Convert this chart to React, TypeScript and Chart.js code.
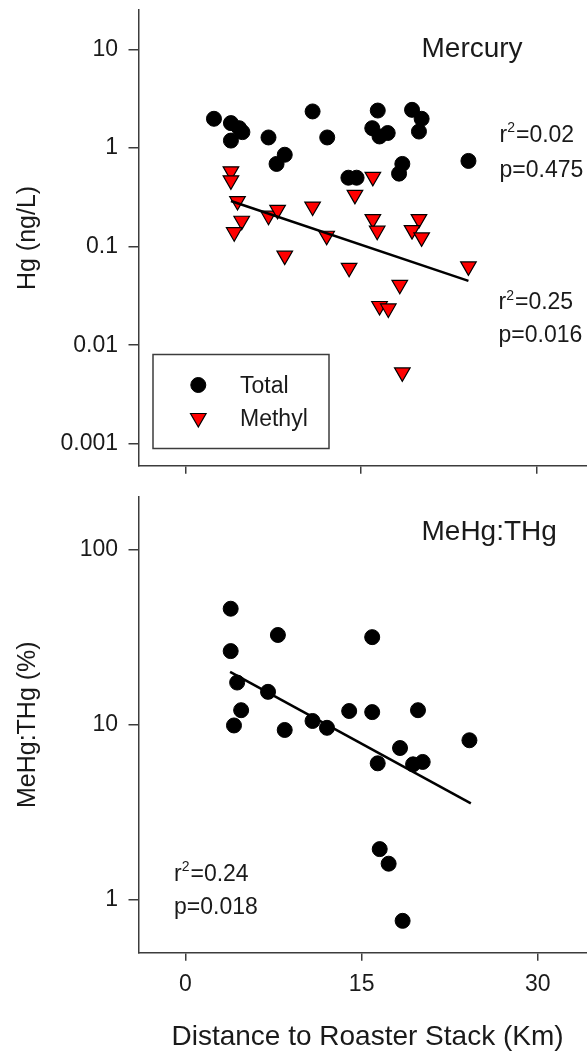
import React, { useEffect, useRef } from 'react';
import { Chart, registerables } from 'chart.js';

Chart.register(...registerables);

// ---------- data ----------
const xTicks = [0, 15, 30];
const hgTicks = [0.001, 0.01, 0.1, 1, 10];
const ratioTicks = [1, 10, 100];

const distTotal = [2.45, 3.9, 4.6, 4.88, 3.9, 7.11, 10.88, 12.13, 8.5, 7.8, 16.45, 19.38, 20.2, 19.97, 15.98, 16.6, 17.3, 18.55, 18.27, 24.2, 13.94, 14.64];
const hgTotal = [1.98, 1.79, 1.59, 1.45, 1.19, 1.28, 2.35, 1.28, 0.855, 0.69, 2.4, 2.44, 1.98, 1.47, 1.59, 1.31, 1.42, 0.69, 0.55, 0.74, 0.5, 0.5];

const distMethyl = [3.9, 3.9, 4.46, 4.82, 4.18, 7.11, 7.89, 10.88, 12.08, 8.5, 16.03, 14.5, 16.03, 16.4, 19.97, 19.38, 20.2, 14.0, 24.2, 18.33, 16.6, 17.35, 18.55];
const hgMethyl = [0.58, 0.47, 0.29, 0.183, 0.14, 0.206, 0.236, 0.255, 0.129, 0.081, 0.51, 0.335, 0.19, 0.145, 0.19, 0.147, 0.124, 0.061, 0.063, 0.041, 0.025, 0.0236, 0.0053];

const methylFitX = [3.9, 24.2];
const methylFitY = [0.29, 0.045];

const distRatio = [3.85, 3.85, 7.87, 15.9, 4.4, 7.03, 4.74, 4.13, 8.45, 10.82, 12.05, 13.94, 15.9, 19.8, 18.27, 16.37, 19.38, 20.2, 24.18, 16.54, 17.3, 18.49];
const ratioPct = [45.9, 26.3, 32.5, 31.6, 17.4, 15.4, 12.1, 9.9, 9.33, 10.5, 9.6, 11.97, 11.8, 12.1, 7.36, 6.02, 5.94, 6.13, 8.15, 1.95, 1.61, 0.76];

const ratioFitX = [3.8, 24.3];
const ratioFitY = [20.0, 3.56];

// ---------- style ----------
const FONT = '"Liberation Sans", Arial, sans-serif';
const INK = '#1a1a1a';
const AXIS = '#3c3c3c';
const W = 605;
const X_MIN = -4;
const X_MAX = 35;
const Y_AXIS_W = 138.5;

const TOP_H = 480;
const BOT_H = 571;

type Part = { t: string; sup?: boolean };
type Note = { x: number; y: number; size: number; parts: Part[] };

const pts = (xs: number[], ys: number[]) => xs.map((x, i) => ({ x, y: ys[i] }));

function notesPlugin(id: string, notes: Note[]) {
  return {
    id,
    afterDraw(chart: any) {
      const ctx = chart.ctx as CanvasRenderingContext2D;
      ctx.save();
      ctx.fillStyle = INK;
      ctx.textBaseline = 'alphabetic';
      ctx.textAlign = 'left';
      for (const n of notes) {
        let x = n.x;
        for (const p of n.parts) {
          const size = p.sup ? Math.round(n.size * 0.6) : n.size;
          ctx.font = `${size}px ${FONT}`;
          const y = p.sup ? n.y - n.size * 0.42 : n.y;
          ctx.fillText(p.t, x, y);
          x += ctx.measureText(p.t).width + (p.sup ? 1 : 0);
        }
      }
      ctx.restore();
    },
  };
}

const legendPlugin = {
  id: 'boxLegend',
  afterDraw(chart: any) {
    const ctx = chart.ctx as CanvasRenderingContext2D;
    const box = { x: 153, y: 354.5, w: 176, h: 94 };
    ctx.save();
    ctx.lineWidth = 1.5;
    ctx.strokeStyle = AXIS;
    ctx.strokeRect(box.x, box.y, box.w, box.h);
    const entries = chart.data.datasets.filter((d: any) => d.inLegend);
    entries.forEach((d: any, i: number) => {
      const cx = 198.3;
      const cy = 385 + i * 33;
      ctx.fillStyle = d.backgroundColor;
      ctx.strokeStyle = d.borderColor;
      ctx.lineWidth = d.borderWidth;
      ctx.beginPath();
      if (d.pointStyle === 'triangle') {
        const r = d.pointRadius;
        let rad = Math.PI;
        ctx.moveTo(cx + Math.sin(rad) * r, cy - Math.cos(rad) * r);
        rad += (2 * Math.PI) / 3;
        ctx.lineTo(cx + Math.sin(rad) * r, cy - Math.cos(rad) * r);
        rad += (2 * Math.PI) / 3;
        ctx.lineTo(cx + Math.sin(rad) * r, cy - Math.cos(rad) * r);
        ctx.closePath();
      } else {
        ctx.arc(cx, cy, d.pointRadius, 0, Math.PI * 2);
      }
      ctx.fill();
      ctx.stroke();
      ctx.fillStyle = INK;
      ctx.font = `23px ${FONT}`;
      ctx.textBaseline = 'alphabetic';
      ctx.fillText(d.label, 240, 393.3 + i * 33);
    });
    ctx.restore();
  },
};

function xScale(showLabels: boolean, height: number, title?: string) {
  return {
    type: 'linear',
    position: 'bottom',
    min: X_MIN,
    max: X_MAX,
    afterBuildTicks: (s: any) => {
      s.ticks = xTicks.map((v) => ({ value: v }));
    },
    afterFit: (s: any) => {
      s.height = height;
      s.paddingLeft = 0;
      s.paddingRight = 0;
      s.paddingTop = 0;
      s.paddingBottom = 0;
    },
    grid: { display: true, drawOnChartArea: false, drawTicks: true, tickLength: 8, color: AXIS, lineWidth: 1.5 },
    border: { display: true, color: AXIS, width: 1.5 },
    ticks: {
      autoSkip: false,
      maxRotation: 0,
      padding: 10,
      color: INK,
      font: { family: FONT, size: 23 },
      callback: (v: any) => (showLabels ? String(v) : ''),
    },
    title: title
      ? { display: true, text: title, color: INK, font: { family: FONT, size: 28, lineHeight: 1 }, padding: { top: 0, bottom: 0 } }
      : { display: false },
  };
}

function yScale(min: number, max: number, ticks: number[], title: string) {
  return {
    type: 'logarithmic',
    position: 'left',
    min,
    max,
    afterBuildTicks: (s: any) => {
      s.ticks = ticks.map((v) => ({ value: v }));
    },
    afterFit: (s: any) => {
      s.width = Y_AXIS_W;
      s.paddingLeft = 0;
      s.paddingRight = 0;
      s.paddingTop = 0;
      s.paddingBottom = 0;
    },
    grid: { display: true, drawOnChartArea: false, drawTicks: true, tickLength: 10, color: AXIS, lineWidth: 1.5 },
    border: { display: true, color: AXIS, width: 1.5 },
    ticks: {
      autoSkip: false,
      padding: 10.5,
      color: INK,
      font: { family: FONT, size: 23 },
      callback: (v: any) => String(v),
    },
    title: { display: true, text: title, color: INK, font: { family: FONT, size: 25, lineHeight: 1 }, padding: { top: 15.5, bottom: 0 } },
  };
}

function topConfig(): any {
  return {
    type: 'scatter',
    data: {
      datasets: [
        {
          label: 'Methyl fit',
          data: pts(methylFitX, methylFitY),
          showLine: true,
          borderColor: '#000',
          borderWidth: 2.5,
          pointRadius: 0,
          fill: false,
          order: 0,
        },
        {
          label: 'Total',
          inLegend: true,
          data: pts(distTotal, hgTotal),
          pointStyle: 'circle',
          pointRadius: 7.5,
          backgroundColor: '#000',
          borderColor: '#000',
          borderWidth: 1,
          order: 2,
        },
        {
          label: 'Methyl',
          inLegend: true,
          data: pts(distMethyl, hgMethyl),
          pointStyle: 'triangle',
          rotation: 180,
          pointRadius: 9,
          backgroundColor: '#ff0000',
          borderColor: '#000',
          borderWidth: 1.2,
          order: 1,
        },
      ],
    },
    options: {
      animation: false,
      responsive: false,
      devicePixelRatio: 1,
      layout: { padding: { top: 10, left: 0, right: 0, bottom: 0 } },
      plugins: { legend: { display: false }, tooltip: { enabled: false } },
      scales: {
        x: xScale(false, TOP_H - 465.7),
        y: yScale(0.0006, 25, hgTicks, 'Hg (ng/L)'),
      },
    },
    plugins: [
      notesPlugin('topNotes', [
        { x: 421.5, y: 57.3, size: 28, parts: [{ t: 'Mercury' }] },
        { x: 499.5, y: 141.7, size: 23, parts: [{ t: 'r' }, { t: '2', sup: true }, { t: '=0.02' }] },
        { x: 499.5, y: 176.7, size: 23, parts: [{ t: 'p=0.475' }] },
        { x: 498.5, y: 309.3, size: 23, parts: [{ t: 'r' }, { t: '2', sup: true }, { t: '=0.25' }] },
        { x: 498.5, y: 341.7, size: 23, parts: [{ t: 'p=0.016' }] },
      ]),
      legendPlugin,
    ],
  };
}

function bottomConfig(): any {
  return {
    type: 'scatter',
    data: {
      datasets: [
        {
          label: 'Ratio fit',
          data: pts(ratioFitX, ratioFitY),
          showLine: true,
          borderColor: '#000',
          borderWidth: 2.5,
          pointRadius: 0,
          fill: false,
          order: 0,
        },
        {
          label: 'MeHg:THg',
          data: pts(distRatio, ratioPct),
          pointStyle: 'circle',
          pointRadius: 7.5,
          backgroundColor: '#000',
          borderColor: '#000',
          borderWidth: 1,
          order: 1,
        },
      ],
    },
    options: {
      animation: false,
      responsive: false,
      devicePixelRatio: 1,
      layout: { padding: { top: 496.7 - TOP_H, left: 0, right: 0, bottom: 0 } },
      plugins: { legend: { display: false }, tooltip: { enabled: false } },
      scales: {
        x: xScale(true, BOT_H - (952.7 - TOP_H), 'Distance to Roaster Stack (Km)'),
        y: yScale(0.5, 200, ratioTicks, 'MeHg:THg (%)'),
      },
    },
    plugins: [
      notesPlugin('bottomNotes', [
        { x: 421.5, y: 540 - TOP_H, size: 28, parts: [{ t: 'MeHg:THg' }] },
        { x: 174, y: 881 - TOP_H, size: 23, parts: [{ t: 'r' }, { t: '2', sup: true }, { t: '=0.24' }] },
        { x: 174, y: 914 - TOP_H, size: 23, parts: [{ t: 'p=0.018' }] },
      ]),
    ],
  };
}

function ChartCanvas({ make, top, height }: { make: () => any; top: number; height: number }) {
  const ref = useRef<HTMLCanvasElement>(null);
  useEffect(() => {
    const chart = new Chart(ref.current as HTMLCanvasElement, make());
    return () => chart.destroy();
  }, [make]);
  return (
    <canvas
      ref={ref}
      width={W}
      height={height}
      style={{ position: 'absolute', left: 0, top, width: W, height, display: 'block' }}
    />
  );
}

export default function App() {
  return (
    <div
      style={{
        position: 'absolute',
        left: 0,
        top: 0,
        width: 587,
        height: 1051,
        overflow: 'hidden',
        background: '#fff',
      }}
    >
      <ChartCanvas make={topConfig} top={0} height={TOP_H} />
      <ChartCanvas make={bottomConfig} top={TOP_H} height={BOT_H} />
    </div>
  );
}
